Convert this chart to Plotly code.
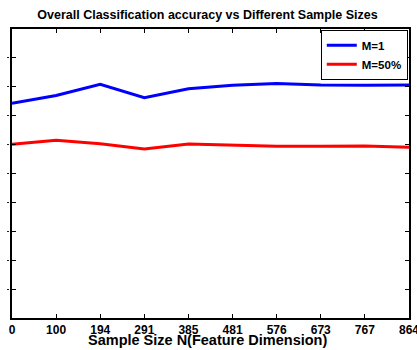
import plotly.graph_objects as go

sample_sizes = ["0", "100", "194", "291", "385", "481", "576", "673", "767", "864"]
acc_m1 = [0.743, 0.770, 0.809, 0.762, 0.793, 0.805, 0.811, 0.806, 0.805, 0.806]
acc_m50 = [0.601, 0.615, 0.603, 0.585, 0.602, 0.598, 0.594, 0.594, 0.595, 0.591]
y_ticks = [0, 0.1, 0.2, 0.3, 0.4, 0.5, 0.6, 0.7, 0.8, 0.9, 1.0]

x_idx = list(range(len(sample_sizes)))
FONT = "Liberation Sans, Arial, Helvetica, sans-serif"

fig = go.Figure()
fig.add_trace(go.Scatter(x=x_idx, y=acc_m1, mode="lines", name="<b>M=1</b>",
                         line=dict(color="#0000ff", width=3)))
fig.add_trace(go.Scatter(x=x_idx, y=acc_m50, mode="lines", name="<b>M=50%</b>",
                         line=dict(color="#ff0000", width=3)))
# carrier for the stub axis on the left (clipped tick-label remnants)
fig.add_trace(go.Scatter(x=[None], y=[None], yaxis="y2", showlegend=False,
                         hoverinfo="skip"))

fig.update_layout(
    width=417, height=350,
    margin=dict(l=6, r=8, t=29, b=32),
    paper_bgcolor="white", plot_bgcolor="white",
    font=dict(family=FONT, color="black"),
    title=dict(text="<b>Overall Classification accuracy vs Different Sample Sizes</b>",
               x=0.5, xanchor="center", y=0.957, yanchor="middle",
               xref="paper", font=dict(size=12.5, color="black")),
    showlegend=True,
    legend=dict(x=0.997, y=0.997, xanchor="right", yanchor="top",
                bgcolor="white", bordercolor="black", borderwidth=1,
                font=dict(size=11.5, family=FONT, color="black"),
                tracegroupgap=0, itemwidth=30),
    xaxis=dict(
        domain=[0.0149, 1],
        range=[0, len(sample_sizes) - 1],
        tickmode="array", tickvals=x_idx,
        ticktext=["<b>%s</b>" % s for s in sample_sizes],
        tickfont=dict(size=12, color="black"),
        ticks="inside", ticklen=4, tickcolor="black",
        ticklabeloverflow="allow", ticklabelstandoff=0,
        showline=True, linecolor="black", linewidth=1.5, mirror="ticks",
        showgrid=False, zeroline=False, automargin=False,
    ),
    yaxis=dict(
        range=[0, 1],
        tickmode="array", tickvals=y_ticks,
        showticklabels=False,
        ticks="inside", ticklen=4, tickcolor="black",
        showline=True, linecolor="black", linewidth=1.5, mirror="ticks",
        showgrid=False, zeroline=False, automargin=False,
    ),
    yaxis2=dict(
        overlaying="y", anchor="free", position=0.0, side="left",
        range=[0, 1], tickmode="array", tickvals=y_ticks,
        ticks="inside", ticklen=2, tickwidth=1.3, tickcolor="#222",
        showticklabels=False, showline=False, showgrid=False,
        zeroline=False, automargin=False,
    ),
    annotations=[dict(
        text="<b>Sample Size N(Feature Dimension)</b>",
        xref="paper", yref="paper", x=0.5, y=0, xanchor="center",
        yanchor="bottom", yshift=-32, showarrow=False,
        font=dict(size=14.5, color="black"),
    )],
)

fig.write_html("out.html", config={"displayModeBar": False},
               post_script="document.body.style.margin='0';")
